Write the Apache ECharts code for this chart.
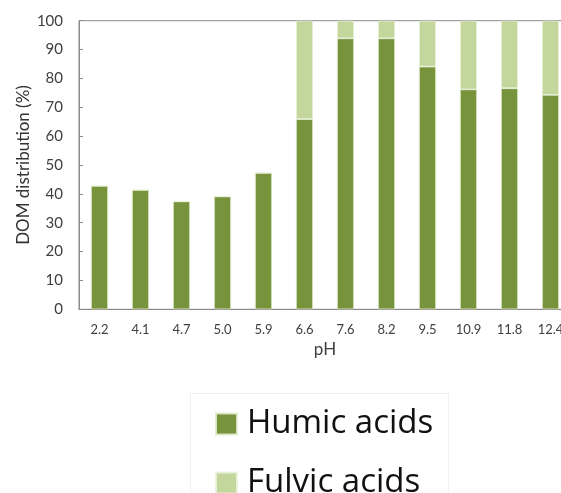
<!DOCTYPE html>
<html>
<head>
<meta charset="utf-8">
<script src="https://cdn.jsdelivr.net/npm/echarts@6/dist/echarts.min.js"></script>
<style>
  html, body { margin: 0; padding: 0; background: #fff; }
  #chart { width: 561px; height: 493px; }
</style>
</head>
<body>
<div id="chart"></div>
<script>
// pH values of each sample
const phLabels = ['2.2', '4.1', '4.7', '5.0', '5.9', '6.6', '7.6', '8.2', '9.5', '10.9', '11.8', '12.4'];
// DOM fractions (%) per sample
const humicAcids = [42.8, 41.4, 37.4, 39.1, 47.3, 65.9, 93.9, 93.9, 84.1, 76.2, 76.6, 74.3];
const fulvicAcids = [0, 0, 0, 0, 0, 34.1, 6.1, 6.1, 15.9, 23.8, 23.4, 25.7];
const yTicks = [0, 10, 20, 30, 40, 50, 60, 70, 80, 90, 100];

const FONT = 'Lato, "Open Sans", sans-serif';
const chart = echarts.init(document.getElementById('chart'), null, { renderer: 'canvas' });

// the plot runs a little past the right edge of the canvas
chart.setOption({
  animation: false,
  backgroundColor: '#ffffff',
  textStyle: { fontFamily: FONT },
  grid: {
    left: 79, top: 20.7, width: 492, height: 288.6,
    outerBoundsMode: 'none',
    containLabel: false,
    show: true, borderColor: '#8a8a8a', borderWidth: 1, backgroundColor: 'transparent'
  },
  graphic: [{
    type: 'rect', left: 190, top: 393,
    shape: { width: 258, height: 120 },
    style: { fill: 'transparent', stroke: '#f0f0f0', lineWidth: 1 },
    silent: true
  }],
  legend: {
    orient: 'vertical',
    left: 215, top: 407.5, height: 220, width: 240,
    padding: 0,
    itemWidth: 21, itemHeight: 21, itemGap: 26,
    icon: 'rect',
    textStyle: {
      fontFamily: '"Open Sans", Lato, sans-serif', fontSize: 33, lineHeight: 24,
      color: '#111', padding: [0, 0, 0, 5]
    },
    data: ['Humic acids', 'Fulvic acids']
  },
  xAxis: {
    type: 'category',
    data: phLabels,
    name: 'pH',
    nameLocation: 'middle',
    nameGap: 31,
    nameTextStyle: { fontSize: 17, color: '#404040', fontFamily: FONT },
    axisLine: { lineStyle: { color: '#8a8a8a', width: 1 } },
    axisTick: { show: false },
    axisLabel: { fontSize: 13, color: '#404040', margin: 14, interval: 0 }
  },
  yAxis: {
    type: 'value',
    min: yTicks[0], max: yTicks[yTicks.length - 1], interval: 10,
    name: 'DOM distribution (%)',
    nameLocation: 'middle',
    nameGap: 47,
    nameMoveOverlap: false,
    nameTextStyle: { fontSize: 17, color: '#333', fontFamily: FONT },
    axisLine: { show: true, lineStyle: { color: '#8a8a8a', width: 1 } },
    axisTick: { show: true, inside: true, length: 4, lineStyle: { color: '#8a8a8a' } },
    splitLine: { show: false },
    axisLabel: { fontSize: 15, color: '#404040', margin: 16 }
  },
  series: [
    {
      name: 'Humic acids', type: 'bar', stack: 'dom', data: humicAcids,
      barWidth: 17,
      itemStyle: { color: '#77933C', borderColor: 'rgba(225,235,205,0.9)', borderWidth: 0.8 }
    },
    {
      name: 'Fulvic acids', type: 'bar', stack: 'dom', data: fulvicAcids,
      barWidth: 17,
      itemStyle: { color: '#C3D69B', borderColor: 'rgba(235,242,222,0.9)', borderWidth: 0.8 }
    }
  ]
});
</script>
</body>
</html>
